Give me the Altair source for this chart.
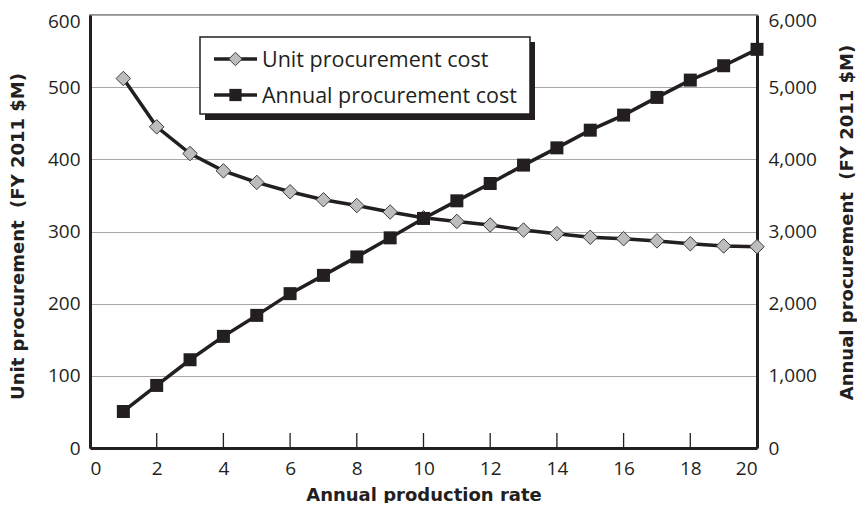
import altair as alt
import pandas as pd

# ---- data ----
rate = list(range(1, 21))
unit_cost = [512, 445, 408, 384, 368, 355, 344, 336, 327, 319,
             314, 309, 302, 297, 292, 290, 287, 283, 280, 279]
annual_cost = [506, 867, 1223, 1547, 1838, 2139, 2392, 2648, 2912, 3181,
               3425, 3665, 3920, 4159, 4404, 4613, 4858, 5098, 5297, 5524]
x_tick_values = [0, 2, 4, 6, 8, 10, 12, 14, 16, 18, 20]
inner_ticks = [2, 4, 6, 8, 10, 12, 14, 16, 18]
left_ticks = [0, 100, 200, 300, 400, 500, 600]
right_ticks = [0, 1000, 2000, 3000, 4000, 5000, 6000]
legend_labels = ["Unit procurement cost", "Annual procurement cost"]

W, H = 667, 433
FONT = "Open Sans"
TFONT = "DejaVu Sans"
INK = "#231f20"

df = pd.DataFrame({"rate": rate, "unit": unit_cost, "annual": annual_cost})

x_axis = alt.Axis(
    values=x_tick_values, title="Annual production rate", ticks=False,
    labelPadding=11, domainWidth=3, domainColor=INK, grid=False,
    titleX=W / 2, titleY=47, titleBaseline="middle",
)
x_enc = alt.X("rate:Q", scale=alt.Scale(domain=[0, 20], nice=False), axis=x_axis)

y_left = alt.Y(
    "unit:Q",
    scale=alt.Scale(domain=[0, 600], nice=False),
    axis=alt.Axis(
        values=left_ticks, grid=True, gridColor="#a8a8a8", gridWidth=1.2,
        ticks=False, labelPadding=10, domainWidth=3, domainColor=INK,
        labelOffset={"condition": {"test": "datum.value == 600", "value": 6}, "value": 0},
        title="Unit procurement\u00a0 (FY 2011 $M)",
        titleX=-72, titleY=221, titleAngle=270, titleBaseline="middle",
    ),
)

y_right = alt.Y(
    "annual:Q",
    scale=alt.Scale(domain=[0, 6000], nice=False),
    axis=alt.Axis(
        orient="right", values=right_ticks, format=",.0f", grid=False,
        ticks=False, labelPadding=11, domainWidth=3, domainColor=INK,
        labelOffset={"condition": {"test": "datum.value == 6000", "value": 5}, "value": 0},
        title="Annual procurement\u00a0 (FY 2011 $M)",
        titleX=90, titleY=207, titleAngle=270, titleBaseline="middle",
    ),
)

base = alt.Chart(df)
unit_line = base.mark_line(color=INK, strokeWidth=3.5).encode(x=x_enc, y=y_left)
unit_pts = base.mark_point(
    shape="diamond", filled=True, fill="#bdbdbd", stroke="#3a3a3a",
    strokeWidth=1, size=210, opacity=1,
).encode(x=x_enc, y=y_left)
annual_line = base.mark_line(color=INK, strokeWidth=3.5).encode(x=x_enc, y=y_right)
annual_pts = base.mark_square(size=169, color=INK, opacity=1).encode(x=x_enc, y=y_right)

left_layer = alt.layer(unit_line, unit_pts)
right_layer = alt.layer(annual_line, annual_pts)
data_layers = alt.layer(left_layer, right_layer).resolve_scale(y="independent")

ticks = alt.Chart(pd.DataFrame({"rate": inner_ticks})).mark_rule(
    color=INK, strokeWidth=1.3
).encode(x=x_enc, y=alt.value(H - 15), y2=alt.value(H))

one = pd.DataFrame({"label": [legend_labels[0]]})
two = pd.DataFrame({"label": [legend_labels[1]]})

shadow = alt.Chart(one).mark_rect(color=INK).encode(
    x=alt.value(115), x2=alt.value(445), y=alt.value(27), y2=alt.value(105))
box = alt.Chart(one).mark_rect(fill="white", stroke=INK, strokeWidth=1.5).encode(
    x=alt.value(110), x2=alt.value(440), y=alt.value(22), y2=alt.value(99))

leg1_line = alt.Chart(one).mark_rule(color=INK, strokeWidth=3.5).encode(
    x=alt.value(124), x2=alt.value(167), y=alt.value(44))
leg1_sym = alt.Chart(one).mark_point(
    shape="diamond", filled=True, fill="#bdbdbd", stroke="#3a3a3a",
    strokeWidth=1, size=180, opacity=1,
).encode(x=alt.value(145.5), y=alt.value(44))
leg1_txt = alt.Chart(one).mark_text(
    align="left", baseline="middle", font=FONT, fontSize=21.5, color=INK
).encode(x=alt.value(172), y=alt.value(46), text="label:N")

leg2_line = alt.Chart(two).mark_rule(color=INK, strokeWidth=3.5).encode(
    x=alt.value(124), x2=alt.value(167), y=alt.value(80))
leg2_sym = alt.Chart(two).mark_square(size=150, color=INK, opacity=1).encode(
    x=alt.value(145.5), y=alt.value(80))
leg2_txt = alt.Chart(two).mark_text(
    align="left", baseline="middle", font=FONT, fontSize=21.5, color=INK
).encode(x=alt.value(172), y=alt.value(82), text="label:N")

chart = alt.layer(
    data_layers, ticks, shadow, box,
    leg1_line, leg1_sym, leg1_txt, leg2_line, leg2_sym, leg2_txt,
).properties(
    width=W, height=H,
    padding={"left": 82, "top": 7, "right": 100, "bottom": 55},
    autosize=alt.AutoSizeParams(type="none"),
    background="white",
).configure_view(
    stroke="#6d6d6d", strokeWidth=1.5,
).configure_axis(
    labelFont=FONT, labelFontSize=19, labelColor=INK,
    titleFont=TFONT, titleFontSize=18, titleFontWeight="bold", titleColor=INK,
)

chart.save("out.html", embed_options={"renderer": "svg", "actions": False})
